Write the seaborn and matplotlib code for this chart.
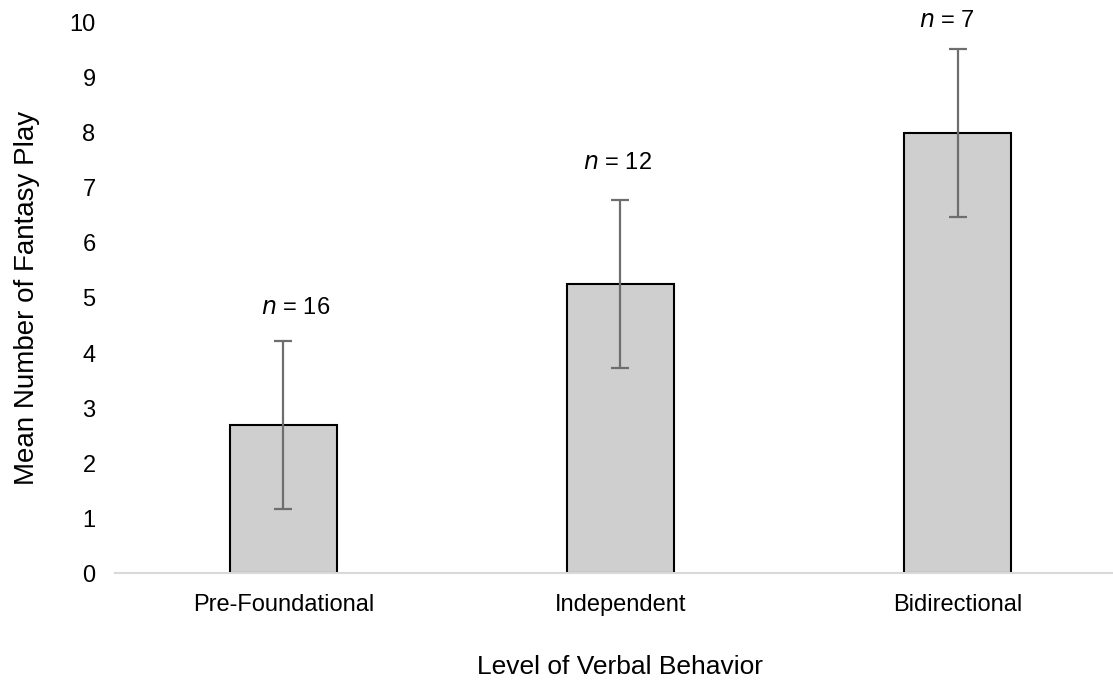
import matplotlib
matplotlib.use("Agg")
import matplotlib.pyplot as plt
import seaborn as sns
import pandas as pd

# Group means, error half-widths and group sizes
levels = ["Pre-Foundational", "Independent", "Bidirectional"]
means = [2.69, 5.25, 8.0]
errors = [1.53, 1.53, 1.53]
group_n = [16, 12, 7]
y_ticks = [0, 1, 2, 3, 4, 5, 6, 7, 8, 9, 10]

# Annotation placement relative to each error bar (category units / data units)
label_dx = [0.035, -0.01, -0.03]
label_dy = [0.6, 0.67, 0.51]

sns.set_theme(style="white")
plt.rcParams["font.family"] = ["Liberation Sans", "DejaVu Sans"]

df = pd.DataFrame({"level": levels, "mean": means})

fig = plt.figure(figsize=(11.13, 6.82), dpi=100)
ax = fig.add_axes([0.1033, 0.1598, 0.9084, 0.8065])

sns.barplot(data=df, x="level", y="mean", color="#D0CFD0", edgecolor="black",
            linewidth=1.5, width=0.315, errorbar=None, saturation=1, ax=ax)

xs = range(len(levels))
ax.errorbar(xs, means, yerr=errors, fmt="none", ecolor="#6E6E6E",
            elinewidth=1.6, capsize=6.5, capthick=1.6, zorder=5)

for x, m, e, n, dx, dy in zip(xs, means, errors, group_n, label_dx, label_dy):
    ax.text(x + dx, m + e + dy, f"$\\it{{n}}$ = {n}", ha="center", va="center",
            fontsize=17, color="black", clip_on=False)

ax.set_xlim(-0.5, 2.5)
ax.set_ylim(0, 10)
ax.set_yticks(y_ticks)
ax.tick_params(axis="both", labelsize=17, length=0, colors="black")
ax.tick_params(axis="y", pad=14)
ax.tick_params(axis="x", pad=15)

for side in ["top", "right", "left"]:
    ax.spines[side].set_visible(False)
ax.spines["bottom"].set_color("#D9D9D9")
ax.spines["bottom"].set_linewidth(1.5)

ax.set_xlabel("Level of Verbal Behavior", fontsize=19, labelpad=28, color="black")
ax.set_ylabel("Mean Number of Fantasy Play", fontsize=20, labelpad=21, color="black")

fig.savefig("out.png", dpi=100)
